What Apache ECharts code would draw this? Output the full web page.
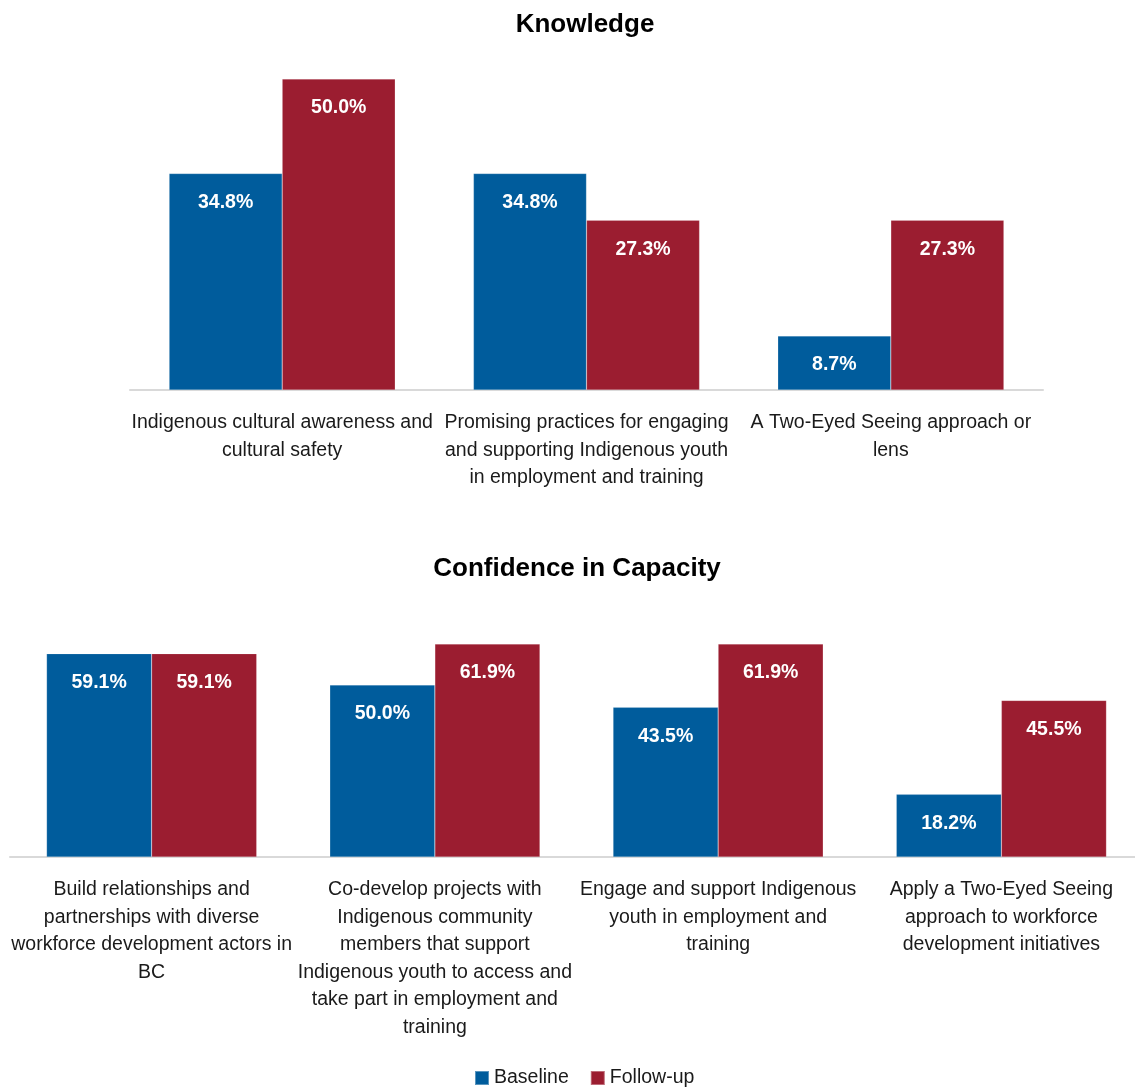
<!DOCTYPE html>
<html>
<head>
<meta charset="utf-8">
<script src="https://cdn.jsdelivr.net/npm/echarts@6/dist/echarts.min.js"></script>
<style>
  html, body { margin: 0; padding: 0; background: #fff; }
  #chart { width: 1135px; height: 1088px; }
</style>
</head>
<body>
<div id="chart"></div>
<script>
// Knowledge section
const knowledgeCategories = [
  'Indigenous cultural awareness and\ncultural safety',
  'Promising practices for engaging\nand supporting Indigenous youth\nin employment and training',
  'A Two-Eyed Seeing approach or\nlens'
];
const knowledgeBaseline = [34.8, 34.8, 8.7];
const knowledgeFollowup = [50.0, 27.3, 27.3];

// Confidence in Capacity section
const capacityCategories = [
  'Build relationships and\npartnerships with diverse\nworkforce development actors in\nBC',
  'Co-develop projects with\nIndigenous community\nmembers that support\nIndigenous youth to access and\ntake part in employment and\ntraining',
  'Engage and support Indigenous\nyouth in employment and\ntraining',
  'Apply a Two-Eyed Seeing\napproach to workforce\ndevelopment initiatives'
];
const capacityBaseline = [59.1, 50.0, 43.5, 18.2];
const capacityFollowup = [59.1, 61.9, 61.9, 45.5];

const seriesNames = ['Baseline', 'Follow-up'];

const BLUE = '#005C9C';
const RED = '#9B1D30';
const FONT = "'Liberation Sans Narrow', 'Arial Narrow', 'Liberation Sans', Arial, sans-serif";

const chart = echarts.init(document.getElementById('chart'));

const valueLabel = {
  show: true,
  position: 'insideTop',
  distance: 19,
  color: '#fff',
  fontFamily: FONT,
  fontWeight: 'bold',
  fontSize: 19.5,
  formatter: p => p.value.toFixed(1) + '%'
};

const catAxis = (gridIndex, data) => ({
  type: 'category',
  gridIndex,
  data,
  axisLine: { lineStyle: { color: '#d9d9d9', width: 2 } },
  axisTick: { show: false },
  axisLabel: {
    interval: 0,
    margin: 19,
    color: '#1a1a1a',
    fontFamily: FONT,
    fontSize: 19.5,
    lineHeight: 27.5,
    align: 'center'
  }
});

const valAxis = (gridIndex, max) => ({
  type: 'value',
  gridIndex,
  min: 0,
  max,
  show: false,
  splitLine: { show: false }
});

const bar = (name, color, xi, data, gap) => ({
  name,
  type: 'bar',
  xAxisIndex: xi,
  yAxisIndex: xi,
  data,
  barGap: '0%',
  barCategoryGap: gap,
  itemStyle: { color, borderColor: 'rgba(255,255,255,0.35)', borderWidth: 0.5 },
  label: valueLabel
});

const titleStyle = { fontFamily: FONT, fontWeight: 'bold', fontSize: 26, color: '#000' };

chart.setOption({
  animation: false,
  textStyle: { fontFamily: FONT },
  title: [
    { text: 'Knowledge', left: 580, top: 7, textAlign: 'center', textStyle: titleStyle },
    { text: 'Confidence in Capacity', left: 572, top: 551, textAlign: 'center', textStyle: titleStyle }
  ],
  legend: {
    data: seriesNames,
    bottom: 0,
    padding: 0,
    left: 474,
    icon: 'rect',
    itemWidth: 14,
    itemHeight: 14,
    itemGap: 21,
    textStyle: { fontFamily: FONT, fontSize: 19.5, color: '#1a1a1a' }
  },
  grid: [
    { left: 130, right: 92, top: 79, height: 311, outerBoundsMode: 'none' },
    { left: 10, right: -8, top: 644, height: 213, outerBoundsMode: 'none' }
  ],
  xAxis: [catAxis(0, knowledgeCategories), catAxis(1, capacityCategories)],
  yAxis: [valAxis(0, 50), valAxis(1, 61.9)],
  series: [
    bar(seriesNames[0], BLUE, 0, knowledgeBaseline, '25.7%'),
    bar(seriesNames[1], RED, 0, knowledgeFollowup, '25.7%'),
    bar(seriesNames[0], BLUE, 1, capacityBaseline, '25.8%'),
    bar(seriesNames[1], RED, 1, capacityFollowup, '25.8%')
  ]
});
</script>
</body>
</html>
